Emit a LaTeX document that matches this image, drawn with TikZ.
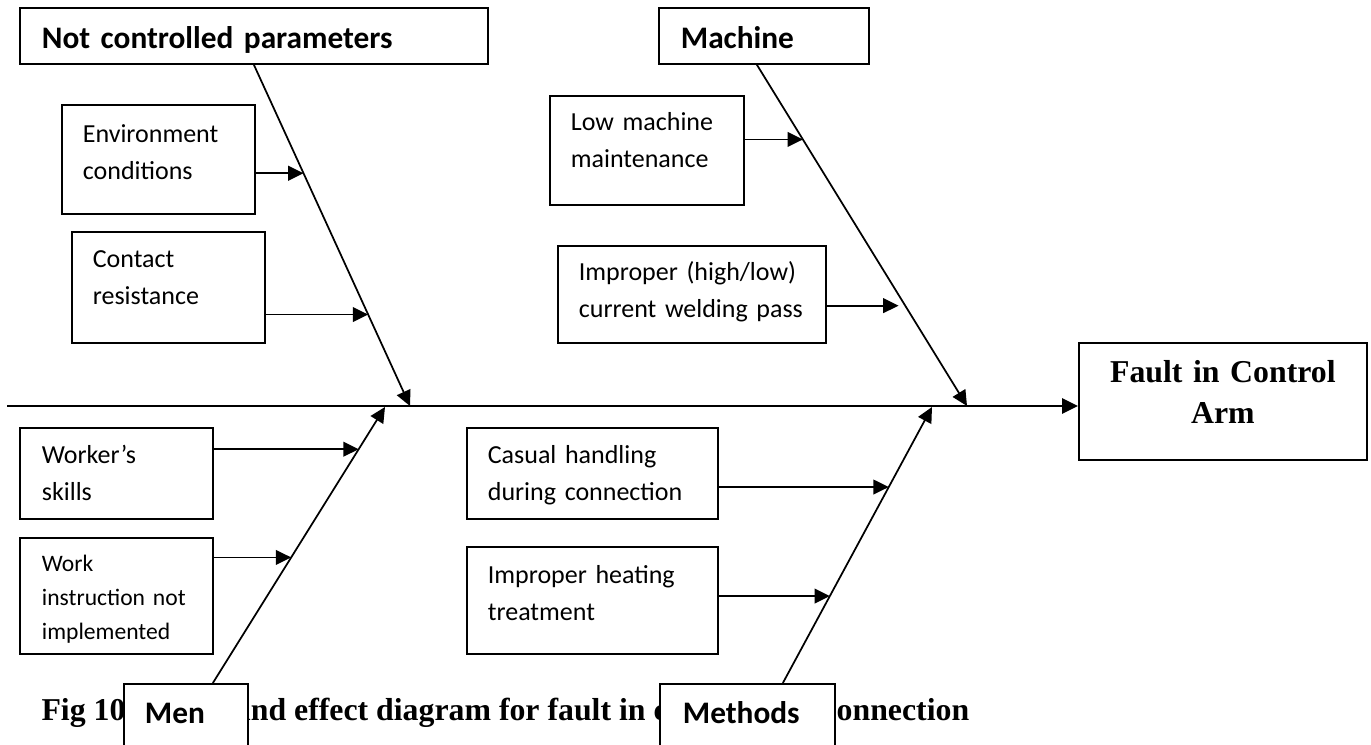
\documentclass[tikz,border=0pt]{standalone}
\usepackage{fontspec}
\setmainfont{Carlito}
\newfontfamily\serifb{Liberation Serif}
\usetikzlibrary{arrows.meta,calc}

\tikzset{every picture/.style={line width=0.75pt}}
\tikzset{
  hdr/.style={draw, fill=white, line width=1.3pt, anchor=north west, align=left,
    inner xsep=16.5pt, inner ysep=0pt, font=\fontsize{23.5pt}{28pt}\selectfont\bfseries},
  cause/.style={draw, line width=1.3pt, anchor=north west, align=left,
    inner xsep=15.75pt, inner ysep=0pt, text width=113.25pt,
    font=\fontsize{19.5pt}{27.75pt}\selectfont},
  bone/.style={line width=1.3pt, -{Triangle[length=11.5pt,width=11pt]}},
  arr/.style={line width=1.3pt, -{Triangle[length=11.5pt,width=11pt]}},
  spine/.style={line width=1.7pt, -{Triangle[length=12pt,width=11.5pt]}}
}

\begin{document}
\begin{tikzpicture}[x=0.75pt,y=0.75pt,yscale=-1,xscale=1]
	\useasboundingbox (0,0) rectangle (1371,745);
	\clip (0,0) rectangle (1371,745);

	% Text Node
	\node[anchor=base west, inner sep=0pt, font=\serifb\fontsize{23.85pt}{28pt}\selectfont\bfseries] (cap) at (41,720) {Fig 10. Cause and effect diagram for fault in control arm connection};

	%Shape: Rectangle [heads]
	\node[hdr, text width=318pt, text height=30.75pt, text depth=11.25pt] (ncp) at (19,7) {Not controlled parameters};
	\node[hdr, text width=124.5pt, text height=30.75pt, text depth=11.25pt] (mach) at (658,7) {Machine};
	\node[hdr, inner xsep=15.75pt, text width=61.5pt, text height=30pt, text depth=50pt] (men) at (123,683) {Men};
	\node[hdr, inner xsep=17.25pt, text width=96.75pt, text height=30pt, text depth=50pt] (meth) at (659,683) {Methods};

	%Shape: Rectangle [effect]
	\node[draw, line width=1.3pt, anchor=north west, align=center, inner xsep=5pt, inner ysep=0pt, text width=206pt, text height=30pt, text depth=57.75pt, font=\serifb\fontsize{23.85pt}{30.75pt}\selectfont\bfseries] (fault) at (1078,342) {Fault in Control\\Arm};

	%Shape: Rectangle [causes]
	\node[cause, text height=28.5pt, text depth=53.25pt] (env) at (61,104) {Environment\\conditions};
	\node[cause, text height=27pt, text depth=56.25pt] (cont) at (71,231) {Contact\\resistance};
	\node[cause, text width=114pt, text height=26.25pt, text depth=55.5pt] (lowm) at (549,95) {Low machine\\maintenance};
	\node[cause, text width=169.5pt, text height=26.25pt, text depth=46.5pt] (impr) at (557,245) {Improper (high/low)\\current welding pass};
	\node[cause, inner xsep=16.5pt, text width=111.75pt, text height=27pt, text depth=41.25pt] (work) at (19,427) {Worker’s\\skills};
	\node[cause, inner xsep=16.5pt, text width=111.75pt, text height=25.5pt, text depth=61.5pt, font=\fontsize{17.7pt}{25.5pt}\selectfont] (instr) at (19,537) {Work\\instruction not\\implemented};
	\node[cause, text width=156.75pt, text height=27pt, text depth=41.25pt] (cas) at (466,427) {Casual handling\\during connection};
	\node[cause, text width=156.75pt, text height=27.75pt, text depth=52.5pt] (heat) at (466,546) {Improper heating\\treatment};

	% main spine
	\coordinate (tail) at (7,406);
	\draw[spine] (tail) -- (tail -| fault.west);

	% joints on spine
	\coordinate (j1) at (410,406);
	\coordinate (j2) at (967,406);
	\coordinate (j3) at (385,407);
	\coordinate (j4) at (932,407);

	% branch starts
	\coordinate (b1) at (ncp.south);
	\coordinate (b2) at ($(mach.south)+(-7,0)$);
	\coordinate (b3) at ($(men.north)+(27,0)$);
	\coordinate (b4) at ($(meth.north)+(35.5,0)$);

	%Straight Lines [bones]
	\draw[bone] (b1) -- (j1);
	\draw[bone] (b2) -- (j2);
	\draw[bone] (b3) -- (j3);
	\draw[bone] (b4) -- (j4);

	% points on bones
	\coordinate (e1) at ($(b1)!0.318!(j1)$);
	\coordinate (e2) at ($(b1)!0.732!(j1)$);
	\coordinate (e3) at ($(b2)!0.219!(j2)$);
	\coordinate (e4) at ($(b2)!0.706!(j2)$);
	\coordinate (e5) at ($(b3)!0.847!(j3)$);
	\coordinate (e6) at ($(b3)!0.455!(j3)$);
	\coordinate (e7) at ($(b4)!0.710!(j4)$);
	\coordinate (e8) at ($(b4)!0.315!(j4)$);

	%Straight Lines [causes]
	\draw[arr] (env.east |- e1) -- (e1);
	\draw[arr] (cont.east |- e2) -- (e2);
	\draw[arr] (lowm.east |- e3) -- (e3);
	\draw[arr, shorten >=5pt] (impr.east |- e4) -- (e4);
	\draw[arr] (work.east |- e5) -- (e5);
	\draw[arr] (instr.east |- e6) -- (e6);
	\draw[arr] (cas.east |- e7) -- (e7);
	\draw[arr] (heat.east |- e8) -- (e8);

\end{tikzpicture}
\end{document}
